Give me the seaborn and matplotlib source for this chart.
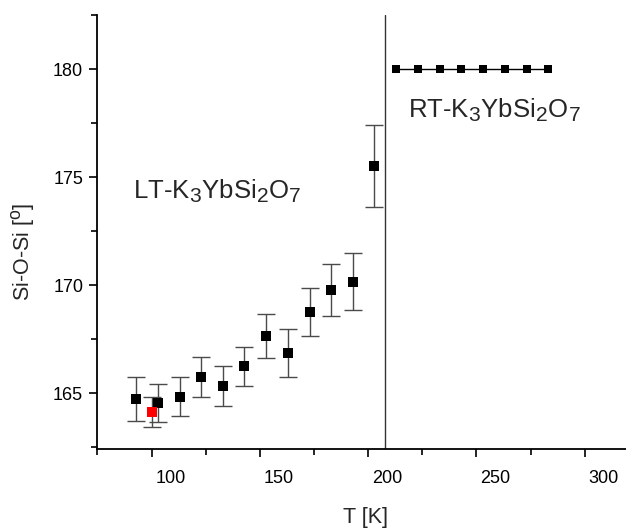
import matplotlib
matplotlib.use("Agg")
import matplotlib.pyplot as plt
import matplotlib.transforms as mtransforms
import seaborn as sns
import numpy as np
import pandas as pd

try:
    import matplotlib._mathtext as _mt
    _mt.SHRINK_FACTOR = 0.82
except Exception:
    pass

# ---- data ----
T_lt = [92.8, 103.1, 113.2, 122.9, 132.9, 142.9, 152.9, 163.0, 173.1, 182.9, 193.2, 202.9]
A_lt = [164.74, 164.54, 164.84, 165.77, 165.34, 166.26, 167.65, 166.85, 168.76, 169.78, 170.17, 175.52]
E_lt = [1.02, 0.89, 0.91, 0.92, 0.92, 0.90, 1.00, 1.11, 1.10, 1.20, 1.31, 1.90]
T_red = [100.2]
A_red = [164.13]
E_red = [0.69]
T_rt = [212.9, 223.2, 233.2, 242.9, 253.1, 263.2, 273.3, 283.1]
A_rt = [180.0, 180.0, 180.0, 180.0, 180.0, 180.0, 180.0, 180.0]
T_transition = 207.6
x_ticks = [100, 150, 200, 250, 300]
x_minor = [75, 125, 175, 225, 275]
y_ticks = [165, 170, 175, 180]
y_minor = [162.5, 167.5, 172.5, 177.5, 182.5]

sns.set_theme(style="ticks")
plt.rcParams['font.family'] = ['Liberation Sans', 'DejaVu Sans']
plt.rcParams['mathtext.fontset'] = 'custom'
plt.rcParams['mathtext.rm'] = 'Liberation Sans'
plt.rcParams['mathtext.it'] = 'Liberation Sans'

fig = plt.figure(figsize=(6.26, 5.29), dpi=100)
ax = fig.add_axes([0.155, 0.1512, 0.845, 0.8204])

lt = pd.DataFrame({"T": T_lt, "A": A_lt})
rt = pd.DataFrame({"T": T_rt, "A": A_rt})
red = pd.DataFrame({"T": T_red, "A": A_red})

ax.errorbar(T_lt, A_lt, yerr=E_lt, fmt='none', ecolor='#4a4a4a', elinewidth=1.0,
            capsize=6.5, capthick=1.0, zorder=2)
ax.errorbar(T_red, A_red, yerr=E_red, fmt='none', ecolor='#4a4a4a', elinewidth=1.0,
            capsize=6.5, capthick=1.0, zorder=2)
sns.scatterplot(data=lt, x="T", y="A", marker='s', s=62, color='black',
                edgecolor='black', linewidth=0, ax=ax, zorder=3)
sns.scatterplot(data=red, x="T", y="A", marker='s', s=58, color='red',
                edgecolor='red', linewidth=0, ax=ax, zorder=4)
sns.lineplot(data=rt, x="T", y="A", color='black', linewidth=1.0, marker='s',
             markersize=6.0, markeredgewidth=0, ax=ax, zorder=3)

ax.axvline(T_transition, color='#333333', linewidth=1.0, zorder=1)

ax.set_xlim(74.8, 319.1)
ax.set_ylim(162.42, 182.51)
ax.set_xticks(x_ticks)
ax.set_xticks(x_minor, minor=True)
ax.set_yticks(y_ticks)
ax.set_yticks(y_minor, minor=True)
ax.tick_params(axis='both', which='major', direction='out', length=6, width=1.2,
               labelsize=13, color='black', labelcolor='black')
ax.tick_params(axis='both', which='minor', direction='out', length=4.5, width=1.2,
               color='black')
ax.tick_params(axis='x', pad=9)
ax.tick_params(axis='y', pad=4)

offset = mtransforms.ScaledTranslation(4 / 100, 0, fig.dpi_scale_trans)
for lab in ax.get_xticklabels():
    lab.set_horizontalalignment('left')
    lab.set_transform(lab.get_transform() + offset)

for s in ['top', 'right']:
    ax.spines[s].set_visible(False)
for s in ['left', 'bottom']:
    ax.spines[s].set_linewidth(1.3)
    ax.spines[s].set_color('black')

ax.set_xlabel("T [K]", fontsize=15.5)
ax.xaxis.set_label_coords(0.5066, -0.134)
ax.set_ylabel("Si-O-Si [$^{\\mathregular{o}}$]", fontsize=15.5)
ax.yaxis.set_label_coords(-0.113, 0.454)

ax.text(91.5, 173.99, "LT-K$_\\mathregular{3}$YbSi$_\\mathregular{2}$O$_\\mathregular{7}$",
        fontsize=18.5, ha='left', va='baseline')
ax.text(218.6, 177.73, "RT-K$_\\mathregular{3}$YbSi$_\\mathregular{2}$O$_\\mathregular{7}$",
        fontsize=18.5, ha='left', va='baseline')

fig.savefig("out.png", dpi=100)
